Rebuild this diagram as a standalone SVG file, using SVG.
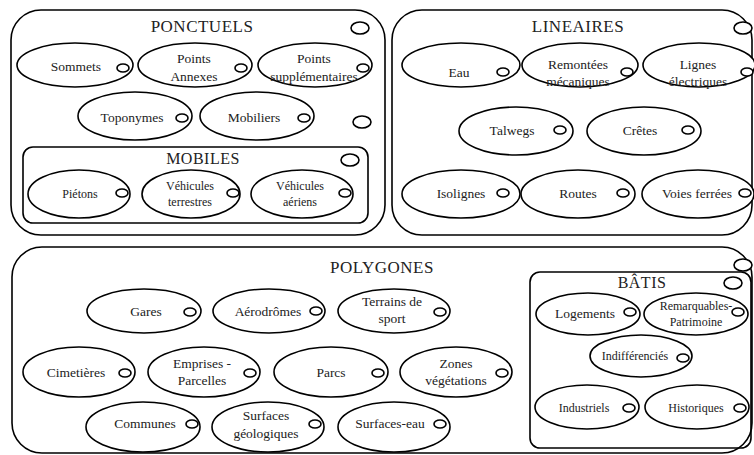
<svg xmlns="http://www.w3.org/2000/svg" width="754" height="455" viewBox="0 0 754 455">
<style>
.box{fill:none;stroke:#000;stroke-width:1.6}
.el{fill:#fff;stroke:#000;stroke-width:1.6}
.sc{fill:#fff;stroke:#000;stroke-width:1.6}
text{font-family:"Liberation Serif","DejaVu Serif",serif;fill:#222;text-anchor:middle}
.t{font-size:17px;letter-spacing:0.5px}
.l{font-size:13.5px}
.s{font-size:12px}
</style>
<rect width="754" height="455" fill="#fff"/>
<g id="connectors"></g>

<g id="ponctuels">
<rect class="box" x="11" y="10" width="374" height="225" rx="30"/>
<text class="t" x="202" y="32">PONCTUELS</text>
<ellipse class="sc" cx="360" cy="28" rx="9" ry="6"/>
<ellipse class="sc" cx="362" cy="122" rx="9" ry="6"/>
</g>
<g id="sommets"><ellipse class="el" cx="75" cy="65" rx="58" ry="22"/><text class="l" x="76" y="71">Sommets</text><ellipse class="sc" cx="123" cy="68" rx="6" ry="4"/></g>
<g id="points-annexes"><ellipse class="el" cx="195" cy="65" rx="57" ry="22"/><text class="l" x="194" y="63">Points</text><text class="l" x="194" y="81">Annexes</text><ellipse class="sc" cx="241" cy="68" rx="6" ry="4"/></g>
<g id="points-supp"><ellipse class="el" cx="315" cy="65" rx="57" ry="22"/><text class="l" x="314" y="63">Points</text><text class="l" x="314" y="81">supplémentaires</text><ellipse class="sc" cx="363" cy="68" rx="6" ry="4"/></g>
<g id="toponymes"><ellipse class="el" cx="135" cy="116" rx="57" ry="24"/><text class="l" x="132" y="122">Toponymes</text><ellipse class="sc" cx="182" cy="118" rx="6" ry="4"/></g>
<g id="mobiliers"><ellipse class="el" cx="257" cy="116" rx="57" ry="24"/><text class="l" x="254" y="122">Mobiliers</text><ellipse class="sc" cx="304" cy="118" rx="6" ry="4"/></g>

<g id="mobiles">
<rect class="box" x="23" y="147" width="345" height="76" rx="10"/>
<text class="t" x="203" y="164" style="font-size:16px">MOBILES</text>
<ellipse class="sc" cx="350" cy="160" rx="9" ry="6"/>
</g>
<g id="pietons"><ellipse class="el" cx="79" cy="194" rx="51" ry="24"/><text class="s" x="80" y="198">Piétons</text><ellipse class="sc" cx="122" cy="193" rx="6" ry="4"/></g>
<g id="vehicules-terrestres"><ellipse class="el" cx="191" cy="194" rx="49" ry="24"/><text class="s" x="190" y="190">Véhicules</text><text class="s" x="190" y="206">terrestres</text><ellipse class="sc" cx="233" cy="193" rx="6" ry="4"/></g>
<g id="vehicules-aeriens"><ellipse class="el" cx="302" cy="194" rx="51" ry="24"/><text class="s" x="300" y="190">Véhicules</text><text class="s" x="300" y="206">aériens</text><ellipse class="sc" cx="345" cy="193" rx="6" ry="4"/></g>

<g id="lineaires">
<rect class="box" x="392" y="10" width="360" height="225" rx="30"/>
<text class="t" x="578" y="32">LINEAIRES</text>
<ellipse class="sc" cx="743" cy="28" rx="9" ry="6"/>
</g>
<g id="eau"><ellipse class="el" cx="461" cy="65" rx="59" ry="22"/><text class="l" x="459" y="77">Eau</text><ellipse class="sc" cx="503" cy="72" rx="6" ry="4"/></g>
<g id="remontees"><ellipse class="el" cx="580" cy="65" rx="58" ry="22"/><text class="l" x="578" y="69">Remontées</text><text class="l" x="578" y="86">mécaniques</text><ellipse class="sc" cx="627" cy="72" rx="6" ry="4"/></g>
<g id="lignes"><ellipse class="el" cx="699" cy="65" rx="56" ry="22"/><text class="l" x="698" y="69">Lignes</text><text class="l" x="698" y="86">électriques</text><ellipse class="sc" cx="747" cy="72" rx="6" ry="4"/></g>
<g id="talwegs"><ellipse class="el" cx="516" cy="131" rx="57" ry="24"/><text class="l" x="512" y="135">Talwegs</text><ellipse class="sc" cx="560" cy="130" rx="6" ry="4"/></g>
<g id="cretes"><ellipse class="el" cx="644" cy="131" rx="57" ry="24"/><text class="l" x="640" y="135">Crêtes</text><ellipse class="sc" cx="688" cy="130" rx="6" ry="4"/></g>
<g id="isolignes"><ellipse class="el" cx="461" cy="194" rx="59" ry="24"/><text class="l" x="461" y="198">Isolignes</text><ellipse class="sc" cx="503" cy="193" rx="6" ry="4"/></g>
<g id="routes"><ellipse class="el" cx="578" cy="194" rx="57" ry="24"/><text class="l" x="578" y="198">Routes</text><ellipse class="sc" cx="623" cy="193" rx="6" ry="4"/></g>
<g id="voies-ferrees"><ellipse class="el" cx="698" cy="194" rx="56" ry="24"/><text class="l" x="697" y="198">Voies ferrées</text><ellipse class="sc" cx="745" cy="193" rx="6" ry="4"/></g>

<g id="polygones">
<rect class="box" x="12" y="247" width="740" height="206" rx="30"/>
<text class="t" x="382" y="273">POLYGONES</text>
<ellipse class="sc" cx="743" cy="265" rx="9" ry="6"/>
</g>
<g id="gares"><ellipse class="el" cx="144" cy="311" rx="57" ry="22"/><text class="l" x="146" y="316">Gares</text><ellipse class="sc" cx="190" cy="312" rx="6" ry="4"/></g>
<g id="aerodromes"><ellipse class="el" cx="269" cy="311" rx="56" ry="22"/><text class="l" x="268" y="316">Aérodrômes</text><ellipse class="sc" cx="316" cy="311" rx="6" ry="4"/></g>
<g id="terrains"><ellipse class="el" cx="394" cy="311" rx="56" ry="22"/><text class="l" x="392" y="306">Terrains de</text><text class="l" x="392" y="323">sport</text><ellipse class="sc" cx="440" cy="312" rx="6" ry="4"/></g>
<g id="cimetieres"><ellipse class="el" cx="79" cy="372" rx="56" ry="25"/><text class="l" x="76" y="377">Cimetières</text><ellipse class="sc" cx="125" cy="373" rx="6" ry="4"/></g>
<g id="emprises"><ellipse class="el" cx="204" cy="372" rx="56" ry="25"/><text class="l" x="202" y="368">Emprises -</text><text class="l" x="202" y="385">Parcelles</text><ellipse class="sc" cx="250" cy="373" rx="6" ry="4"/></g>
<g id="parcs"><ellipse class="el" cx="331" cy="372" rx="57" ry="25"/><text class="l" x="331" y="377">Parcs</text><ellipse class="sc" cx="378" cy="373" rx="6" ry="4"/></g>
<g id="zones"><ellipse class="el" cx="456" cy="372" rx="56" ry="25"/><text class="l" x="456" y="368">Zones</text><text class="l" x="456" y="385">végétations</text><ellipse class="sc" cx="502" cy="373" rx="6" ry="4"/></g>
<g id="communes"><ellipse class="el" cx="143" cy="427" rx="57" ry="25"/><text class="l" x="145" y="428">Communes</text><ellipse class="sc" cx="192" cy="424" rx="6" ry="4"/></g>
<g id="surfaces-geo"><ellipse class="el" cx="268" cy="427" rx="56" ry="25"/><text class="l" x="266" y="420">Surfaces</text><text class="l" x="266" y="438">géologiques</text><ellipse class="sc" cx="315" cy="424" rx="6" ry="4"/></g>
<g id="surfaces-eau"><ellipse class="el" cx="394" cy="427" rx="56" ry="25"/><text class="l" x="390" y="428">Surfaces-eau</text><ellipse class="sc" cx="440" cy="424" rx="6" ry="4"/></g>

<g id="batis">
<rect class="box" x="530" y="272" width="221" height="176" rx="10"/>
<text class="t" x="642" y="288" style="font-size:16px">BÂTIS</text>
<ellipse class="sc" cx="733" cy="283" rx="9" ry="6"/>
</g>
<g id="logements"><ellipse class="el" cx="588" cy="314" rx="52" ry="21"/><text class="l" x="585" y="318">Logements</text><ellipse class="sc" cx="630" cy="312" rx="6" ry="4"/></g>
<g id="remarquables"><ellipse class="el" cx="696" cy="314" rx="52" ry="21"/><text class="s" x="696" y="310">Remarquables-</text><text class="s" x="696" y="326">Patrimoine</text><ellipse class="sc" cx="738" cy="312" rx="6" ry="4"/></g>
<g id="indifferencies"><ellipse class="el" cx="641" cy="356" rx="51" ry="21"/><text class="s" x="635" y="360">Indifférenciés</text><ellipse class="sc" cx="683" cy="358" rx="6" ry="4"/></g>
<g id="industriels"><ellipse class="el" cx="587" cy="407" rx="52" ry="22"/><text class="s" x="584" y="412">Industriels</text><ellipse class="sc" cx="629" cy="408" rx="6" ry="4"/></g>
<g id="historiques"><ellipse class="el" cx="697" cy="407" rx="52" ry="22"/><text class="s" x="696" y="412">Historiques</text><ellipse class="sc" cx="740" cy="408" rx="6" ry="4"/></g>
</svg>
